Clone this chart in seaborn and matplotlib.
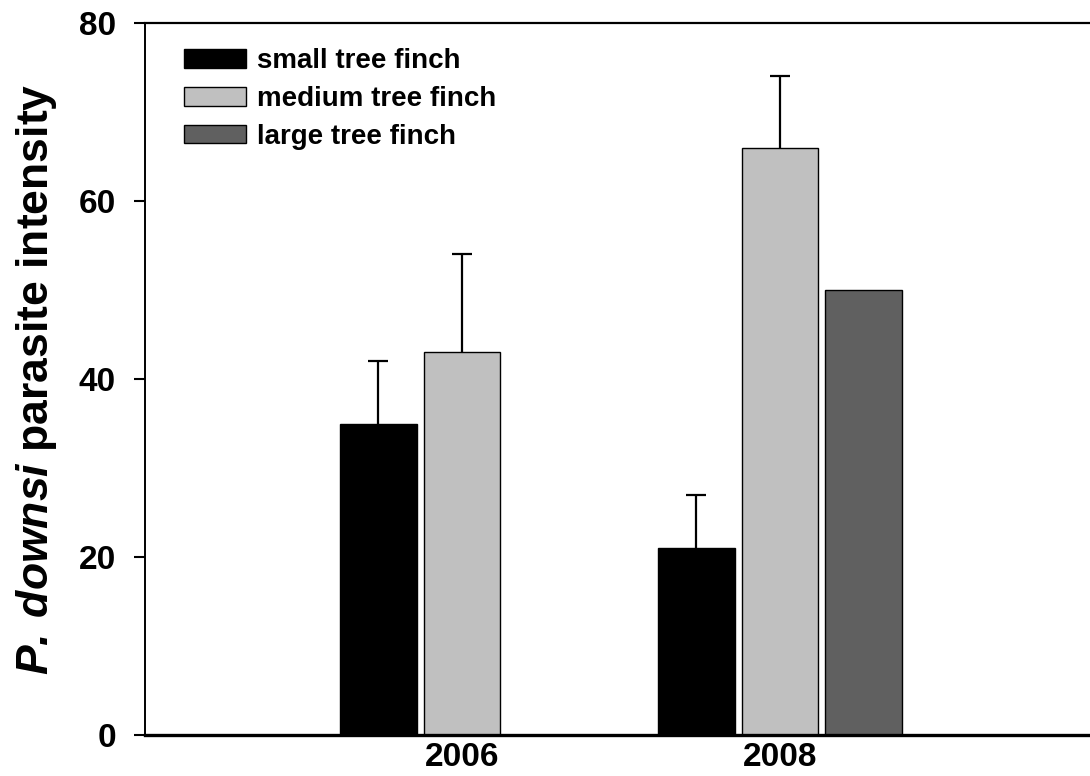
import matplotlib
matplotlib.use("Agg")
import matplotlib.pyplot as plt
import seaborn as sns
import pandas as pd
import numpy as np

# Mean P. downsi intensity per finch species and year, with upper standard errors
years = ["2006", "2006", "2008", "2008", "2008"]
species = ["small tree finch", "medium tree finch",
           "small tree finch", "medium tree finch", "large tree finch"]
means = [35, 43, 21, 66, 50]
upper_err = [7, 11, 6, 8, 0]

species_order = ["small tree finch", "medium tree finch", "large tree finch"]
year_order = ["2006", "2008"]
bar_colors = ["#000000", "#c0c0c0", "#606060"]
y_ticks = [0, 20, 40, 60, 80]

df = pd.DataFrame({"year": years, "species": species,
                   "intensity": means, "err": upper_err})

sns.set_theme(style="ticks")
plt.rcParams["font.family"] = ["Liberation Sans", "DejaVu Sans"]
plt.rcParams["mathtext.fontset"] = "custom"
plt.rcParams["mathtext.bfit"] = "Liberation Sans:bold:italic"
plt.rcParams["mathtext.rm"] = "Liberation Sans:bold"
plt.rcParams["text.color"] = "black"
plt.rcParams["axes.labelcolor"] = "black"
plt.rcParams["xtick.color"] = "black"
plt.rcParams["ytick.color"] = "black"

fig = plt.figure(figsize=(10.9, 7.76), dpi=100)
ax = fig.add_axes([0.133, 0.0528, 0.867, 0.9176])

bar_width = 0.79
sns.barplot(data=df, x="year", y="intensity", hue="species",
            order=year_order, hue_order=species_order,
            palette=bar_colors, errorbar=None, width=bar_width, gap=0.085,
            edgecolor="black", linewidth=1.0, ax=ax)

# Upper-only error bars placed on the drawn bars
for _, row in df.iterrows():
    if row["err"] <= 0:
        continue
    slot = year_order.index(row["year"]) + \
        (species_order.index(row["species"]) - 1) * bar_width / 3
    for p in ax.patches:
        xc = p.get_x() + p.get_width() / 2
        if p.get_height() == row["intensity"] and abs(xc - slot) < 0.05:
            cont = ax.errorbar(xc, row["intensity"],
                               yerr=[[0], [row["err"]]],
                               fmt="none", ecolor="black", elinewidth=1.6,
                               capsize=7, capthick=1.6, zorder=1)
            for cap in cont[1]:
                if np.allclose(cap.get_ydata(), row["intensity"]):
                    cap.set_visible(False)

ax.set_ylim(0, 80)
ax.set_xlim(-0.997, 1.975)
ax.set_yticks(y_ticks)
ax.set_yticklabels([str(t) for t in y_ticks])
ax.tick_params(axis="y", length=8, width=1.5, pad=13, labelsize=24,
               direction="out", color="black", labelcolor="black")
ax.tick_params(axis="x", length=0, pad=5, labelsize=24, labelcolor="black")
for lab in ax.get_xticklabels() + ax.get_yticklabels():
    lab.set_fontweight("bold")

ax.set_xlabel("")
ax.set_ylabel(r"$\mathbfit{P.}\,\mathbfit{downsi}$ parasite intensity",
              fontsize=32, fontweight="bold", labelpad=14, color="black")

ax.spines["right"].set_visible(False)
ax.spines["top"].set_visible(True)
ax.spines["top"].set_linewidth(1.6)
ax.spines["left"].set_linewidth(1.4)
ax.spines["bottom"].set_linewidth(2.4)
for s in ax.spines.values():
    s.set_color("black")

handles, labels = ax.get_legend_handles_labels()
leg = ax.legend(handles, labels, loc="upper left",
                bbox_to_anchor=(0.03, 0.98), frameon=False,
                prop={"family": "Liberation Sans", "weight": "bold", "size": 20},
                handlelength=2.2, handleheight=0.65, handletextpad=0.4,
                labelspacing=0.42, borderaxespad=0)
for t in leg.get_texts():
    t.set_color("black")

fig.savefig("out.png", dpi=100)
